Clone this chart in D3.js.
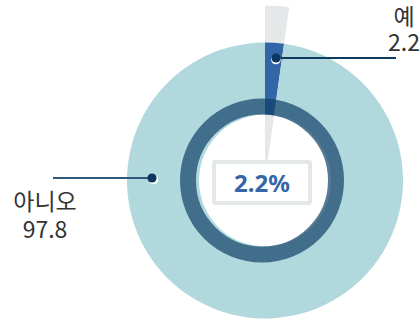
<!DOCTYPE html>
<html><head><meta charset="utf-8">
<script src="https://cdn.jsdelivr.net/npm/d3@7/dist/d3.min.js"></script>
<style>html,body{margin:0;padding:0;background:#fff;}svg{display:block;}</style>
</head><body>
<svg id="c" width="420" height="320"></svg>
<script>
const categories = ["예", "아니오"];
const values = [2.2, 97.8];
const valueLabels = ["2.2", "97.8"];
const centerLabel = "2.2%";

const W = 420, H = 320;
const cx = 265, cy = 180.5;
const outerR = 138, innerR = 66, ghostR = 175;
const colors = ["#3366a6", "#b0d8dd"];
const svg = d3.select("#c");
const font = "'Noto Sans CJK KR','Noto Sans',sans-serif";

const pie = d3.pie().sort(null).value(d => d)(values);
const g = svg.append("g").attr("transform", `translate(${cx},${cy})`);

// ghost highlight wedge for first slice
g.append("path")
  .attr("d", d3.arc().innerRadius(0).outerRadius(ghostR)(pie[0]))
  .attr("fill", "#e4e8e9");

// donut slices
g.selectAll("path.slice").data(pie).join("path")
  .attr("class", "slice")
  .attr("d", d3.arc().innerRadius(innerR).outerRadius(outerR))
  .attr("fill", (d, i) => colors[i]);

// ring (semi-transparent navy), slightly offset
svg.append("circle")
  .attr("cx", cx - 3).attr("cy", cy).attr("r", 74)
  .attr("fill", "none").attr("stroke", "#0f3e65").attr("stroke-opacity", 0.69)
  .attr("stroke-width", 16);

// center box
svg.append("rect")
  .attr("x", 214).attr("y", 162).attr("width", 96).attr("height", 41)
  .attr("fill", "#fff").attr("stroke", "#e3e7e8").attr("stroke-width", 4).attr("rx", 1);
svg.append("text")
  .attr("x", 262).attr("y", 192).attr("text-anchor", "middle")
  .attr("font-family", "'Noto Sans','Noto Sans CJK KR',sans-serif")
  .attr("font-weight", 700).attr("font-size", 24).attr("fill", "#3567a8")
  .text(centerLabel);

// leader lines + dots
const labelLayout = [
  { dot: [276, 58], lineTo: 396, tx: 404, ty: [25, 51] },
  { dot: [152, 178], lineTo: 53, tx: 45, ty: [210, 238] }
];
labelLayout.forEach((L, i) => {
  svg.append("line")
    .attr("x1", L.dot[0]).attr("y1", L.dot[1]).attr("x2", L.lineTo).attr("y2", L.dot[1])
    .attr("stroke", i === 0 ? "#0e3a5f" : "#30587a").attr("stroke-width", 2);
  const dx = (cx - L.dot[0]), dy = (cy - L.dot[1]);
  const len = Math.hypot(dx, dy);
  svg.append("circle")
    .attr("cx", L.dot[0] + dx / len * 1.5).attr("cy", L.dot[1] + 1.5)
    .attr("r", 4.8).attr("fill", "#fff");
  svg.append("circle")
    .attr("cx", L.dot[0]).attr("cy", L.dot[1])
    .attr("r", 4.6).attr("fill", "#0c3760");
  const lines = [categories[i], valueLabels[i]];
  lines.forEach((t, k) => {
    svg.append("text")
      .attr("x", L.tx).attr("y", L.ty[k]).attr("text-anchor", "middle")
      .attr("font-family", font).attr("font-size", 23).attr("fill", "#333")
      .text(t);
  });
});
</script>
</body></html>
